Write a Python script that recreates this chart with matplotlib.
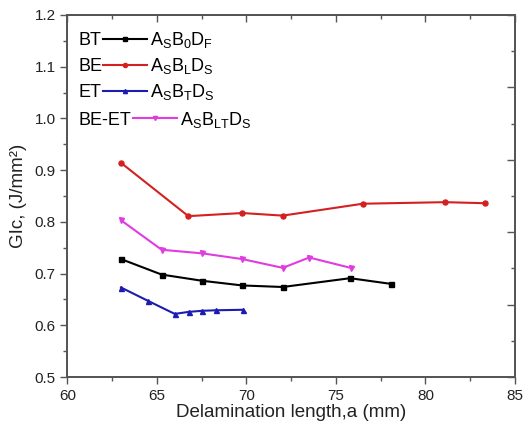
import matplotlib.pyplot as plt
from matplotlib.ticker import MultipleLocator, NullFormatter

plt.rcParams['font.family'] = ['Liberation Sans', 'DejaVu Sans']
plt.rcParams['mathtext.fontset'] = 'custom'
plt.rcParams['mathtext.rm'] = 'Liberation Sans'
plt.rcParams['mathtext.it'] = 'Liberation Sans'

# data
bt_x = [63.0, 65.27, 67.54, 69.77, 72.03, 75.79, 78.08]
bt_y = [0.728, 0.698, 0.686, 0.677, 0.674, 0.691, 0.680]

be_x = [63.0, 66.76, 69.77, 72.03, 76.5, 81.1, 83.3]
be_y = [0.914, 0.811, 0.817, 0.812, 0.835, 0.838, 0.836]

et_x = [63.0, 64.52, 66.0, 66.8, 67.54, 68.28, 69.83]
et_y = [0.673, 0.647, 0.622, 0.626, 0.628, 0.629, 0.630]

beet_x = [63.0, 65.27, 67.54, 69.77, 72.03, 73.51, 75.82]
beet_y = [0.803, 0.746, 0.739, 0.728, 0.711, 0.731, 0.711]

names = ['BT', 'BE', 'ET', 'BE-ET']
codes = [r'$\mathregular{A_SB_0D_F}$', r'$\mathregular{A_SB_LD_S}$',
         r'$\mathregular{A_SB_TD_S}$', r'$\mathregular{A_SB_{LT}D_S}$']
colors = ['black', '#d42020', '#1c1cb0', '#e03ce0']
markers = ['s', 'o', '^', 'v']

spine_c = '#555555'

fig = plt.figure(figsize=(5.23, 4.26), dpi=100)
ax = fig.add_axes([0.1287, 0.115, 0.856, 0.85])

series = [(bt_x, bt_y), (be_x, be_y), (et_x, et_y), (beet_x, beet_y)]
for (xs, ys), c, m in zip(series, colors, markers):
    ax.plot(xs, ys, color=c, marker=m, markersize=3.6, lw=1.5)

ax.set_xlim(60, 85)
ax.set_ylim(0.5, 1.2)
ax.xaxis.set_major_locator(MultipleLocator(5))
ax.xaxis.set_minor_locator(MultipleLocator(2.5))
ax.yaxis.set_major_locator(MultipleLocator(0.1))
ax.yaxis.set_minor_locator(MultipleLocator(0.05))
ax.yaxis.set_major_formatter(plt.FormatStrFormatter('%.1f'))
ax.tick_params(which='major', direction='out', length=5, width=1, color=spine_c,
               labelsize=11, labelcolor='#222222')
ax.tick_params(which='minor', direction='out', length=3, width=1, color=spine_c)
for s in ax.spines.values():
    s.set_color(spine_c)
    s.set_linewidth(1.3)

ax.set_xlabel('Delamination length,a (mm)', fontsize=13.5, color='#222222', labelpad=1)
ax.set_ylabel('GIc, (J/mm²)', fontsize=13.5, color='#222222', labelpad=5)

# top axis: inward ticks, no labels
top = ax.secondary_xaxis('top')
top.xaxis.set_major_locator(MultipleLocator(5))
top.xaxis.set_minor_locator(MultipleLocator(2.5))
top.xaxis.set_major_formatter(NullFormatter())
top.tick_params(which='major', direction='in', length=5, width=1, color=spine_c)
top.tick_params(which='minor', direction='in', length=3, width=1, color=spine_c)
top.spines['top'].set_color(spine_c)
top.spines['top'].set_linewidth(1.3)

# right axis: separate tick spacing, inward, no labels
rt = ax.twinx()
rt.set_ylim(0, 10)
rt.yaxis.set_major_locator(MultipleLocator(2))
rt.yaxis.set_minor_locator(MultipleLocator(1))
rt.yaxis.set_major_formatter(NullFormatter())
rt.tick_params(which='major', direction='in', length=6, width=1, color=spine_c)
rt.tick_params(which='minor', direction='in', length=3, width=1, color=spine_c)
for s in rt.spines.values():
    s.set_color(spine_c)
    s.set_linewidth(1.3)

# Origin-style legend: name, line sample, code
rows = [0.934, 0.862, 0.790, 0.715]
line_x = [(0.080, 0.178), (0.080, 0.178), (0.080, 0.178), (0.147, 0.245)]
for name, code, c, m, ry, (x0, x1) in zip(names, codes, colors, markers, rows, line_x):
    ax.text(0.024, ry - 0.018, name, transform=ax.transAxes, fontsize=13, va='baseline', ha='left')
    ax.plot([x0, x1], [ry, ry], color=c, lw=1.5, transform=ax.transAxes, clip_on=False)
    ax.plot([(x0 + x1) / 2], [ry], color=c, marker=m, markersize=3,
            transform=ax.transAxes, clip_on=False)
    ax.text(x1 + 0.006, ry - 0.018, code, transform=ax.transAxes, fontsize=13,
            va='baseline', ha='left')

fig.savefig('out.png', dpi=100)
